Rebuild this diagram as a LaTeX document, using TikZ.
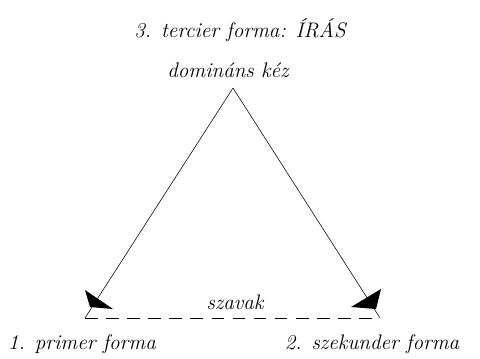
\documentclass[tikz,border=0pt]{standalone}
\usepackage{tikz}
\begin{document}
\begin{tikzpicture}[
  x=0.025cm, y=-0.025cm,
  label/.style={font=\fontsize{15}{17}\selectfont\itshape, inner sep=1pt},
  side/.style={thin},
  base/.style={thin, dash pattern=on 9pt off 6pt},
  head/.style={fill=black}
]
\useasboundingbox (0,0) rectangle (480,358);
\node[label] (tercier) at (240,30) {3. tercier forma: ÍRÁS};
\node[label] (kez) at (228,70) {domináns kéz};
\node[label] (primer) at (82,344) {1. primer forma};
\node[label] (szekunder) at (372,344) {2. szekunder forma};
\node[label] (szavak) at (235,302) {szavak};

\coordinate (apex) at (233,88);
\coordinate (left) at (85,318);
\coordinate (right) at (380,318);

\draw[side] (apex) -- (left);
\draw[side] (apex) -- (right);
\draw[base] (left) -- (right);

% arrow heads
\fill[head] (85,290) -- (113,309) -- (90,307) -- cycle;
\fill[head] (381,289) -- (351,307) -- (376,309) -- cycle;
\end{tikzpicture}
\end{document}
